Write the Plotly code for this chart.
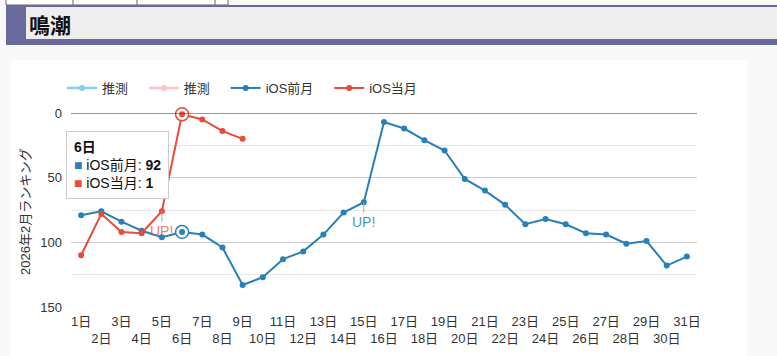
import plotly.graph_objects as go

W, H = 777, 356

days = [f"{d}日" for d in range(1, 32)]
tick_text = [f"{d}日" if d % 2 == 1 else f"<br>{d}日" for d in range(1, 32)]

prev_month = [79, 76, 84, 91, 96, 92, 94, 104, 133, 127, 113, 107, 94, 77, 69,
              7, 12, 21, 29, 51, 60, 71, 86, 82, 86, 93, 94, 101, 99, 118, 111]
cur_month = [110, 78, 92, 93, 76, 1, 5, 14, 20]
cur_days = days[:len(cur_month)]

y_ticks = [0, 50, 100, 150]

BLUE = "#2980b9"
RED = "#e74c3c"
FONT = "Liberation Sans, Noto Sans CJK JP, sans-serif"
PAD = "\u00a0\u00a0\u00a0"

def px(x):
    return x / W

def py(y):
    return 1 - y / H

fig = go.Figure()

fig.add_trace(go.Scatter(x=[None], y=[None], name="推測" + PAD, mode="lines+markers",
                         line=dict(color="#87ceeb", width=2.5), marker=dict(size=6)))
fig.add_trace(go.Scatter(x=[None], y=[None], name="推測" + PAD, mode="lines+markers",
                         line=dict(color="#ffc0cb", width=2.5), marker=dict(size=6)))
fig.add_trace(go.Scatter(x=days, y=prev_month, name="iOS前月" + PAD, mode="lines+markers",
                         line=dict(color=BLUE, width=2), marker=dict(size=6), cliponaxis=False))
fig.add_trace(go.Scatter(x=cur_days, y=cur_month, name="iOS当月", mode="lines+markers",
                         line=dict(color=RED, width=2), marker=dict(size=6), cliponaxis=False))

# hover emphasis on day 6
hi = 5
for col, val in ((BLUE, prev_month[hi]), (RED, cur_month[hi])):
    fig.add_trace(go.Scatter(x=[days[hi]], y=[val], mode="markers", showlegend=False,
                             marker=dict(size=13, color="white", line=dict(color=col, width=1.5)),
                             cliponaxis=False, hoverinfo="skip"))
    fig.add_trace(go.Scatter(x=[days[hi]], y=[val], mode="markers", showlegend=False,
                             marker=dict(size=6, color=col), cliponaxis=False, hoverinfo="skip"))

shapes = [
    dict(type="rect", xref="paper", yref="paper", x0=px(6), x1=px(228), y0=py(5), y1=py(-2),
         line=dict(color="#666", width=1), fillcolor="white", layer="below"),
    dict(type="rect", xref="paper", yref="paper", x0=px(6), x1=px(778), y0=py(45), y1=py(5),
         line=dict(width=0), fillcolor="#69699b", layer="below"),
    dict(type="rect", xref="paper", yref="paper", x0=px(26), x1=px(778), y0=py(39), y1=py(7),
         line=dict(width=0), fillcolor="#eeeeee", layer="below"),
    dict(type="rect", xref="paper", yref="paper", x0=px(11), x1=px(747), y0=py(357), y1=py(60),
         line=dict(width=0), fillcolor="white", layer="below"),
]
for xv in (73, 137, 215):
    shapes.append(dict(type="line", xref="paper", yref="paper", x0=px(xv), x1=px(xv), y0=py(5), y1=py(0),
                       line=dict(color="#666", width=1), layer="below"))

annotations = [
    dict(text="<b>鳴潮</b>", xref="paper", yref="paper", x=px(27), y=py(26), xanchor="left",
         yanchor="middle", showarrow=False, font=dict(size=21, color="#111", family=FONT)),
    dict(text="2026年2月ランキング", xref="paper", yref="paper", x=px(25), y=py(212),
         xanchor="center", yanchor="middle", textangle=-90, showarrow=False,
         font=dict(size=13, color="#333", family=FONT)),
    dict(text="UP!", x=days[4], y=cur_month[4], xref="x", yref="y", showarrow=True,
         arrowhead=0, arrowcolor="#aaa", arrowwidth=1, ax=0, ay=20,
         font=dict(size=14, color="rgba(231,76,60,0.75)", family=FONT)),
    dict(text="UP!", x=days[14], y=prev_month[14], xref="x", yref="y", showarrow=True,
         arrowhead=0, arrowcolor="#aaa", arrowwidth=1, ax=0, ay=20,
         font=dict(size=14, color="rgba(41,128,185,0.85)", family=FONT)),
    dict(text=(f"<b>{days[hi]}</b><br>"
               f"<span style='color:{BLUE}'>■</span> iOS前月: <b>{prev_month[hi]}</b><br>"
               f"<span style='color:{RED}'>■</span> iOS当月: <b>{cur_month[hi]}</b>"),
         xref="paper", yref="paper", x=px(66), y=py(131), xanchor="left", yanchor="top",
         align="left", showarrow=False, bgcolor="white", bordercolor="#cccccc", borderwidth=1,
         borderpad=7, font=dict(size=14, color="#111", family=FONT)),
]

fig.update_layout(
    width=W, height=H,
    margin=dict(l=0, r=0, t=0, b=0, pad=0, autoexpand=False),
    paper_bgcolor="#f9f9f9",
    plot_bgcolor="white",
    font=dict(family=FONT, size=13, color="#333"),
    showlegend=True,
    legend=dict(orientation="h", x=px(62), y=py(88), xanchor="left", yanchor="middle",
                bgcolor="rgba(0,0,0,0)", font=dict(size=13, color="#333"),
                itemwidth=30, traceorder="normal"),
    xaxis=dict(domain=[px(71), px(697)], type="category", categoryorder="array",
               categoryarray=days, tickmode="array", tickvals=days, ticktext=tick_text,
               tickangle=0, showgrid=False, zeroline=False, showline=False, ticks="",
               automargin=False, ticklabelstandoff=5,
               range=[-0.5, 30.5], tickfont=dict(size=13, color="#333"), fixedrange=True),
    yaxis=dict(domain=[py(307), py(113)], range=[150, 0], tickvals=y_ticks,
               showgrid=True, gridcolor="#cccccc", gridwidth=1,
               minor=dict(tickvals=[25, 75, 125], showgrid=True, gridcolor="#e8e8e8"),
               zeroline=False, showline=False, ticks="", ticklabelstandoff=8,
               automargin=False,
               tickfont=dict(size=13, color="#333")),
    shapes=shapes + [dict(type="line", xref="x domain", yref="y", x0=0, x1=1, y0=0, y1=0,
                          line=dict(color="#333", width=1))],
    annotations=annotations,
    hovermode=False,
)

fig.write_html("out.html", config={"displayModeBar": False},
               post_script="document.body.style.margin='0';")
